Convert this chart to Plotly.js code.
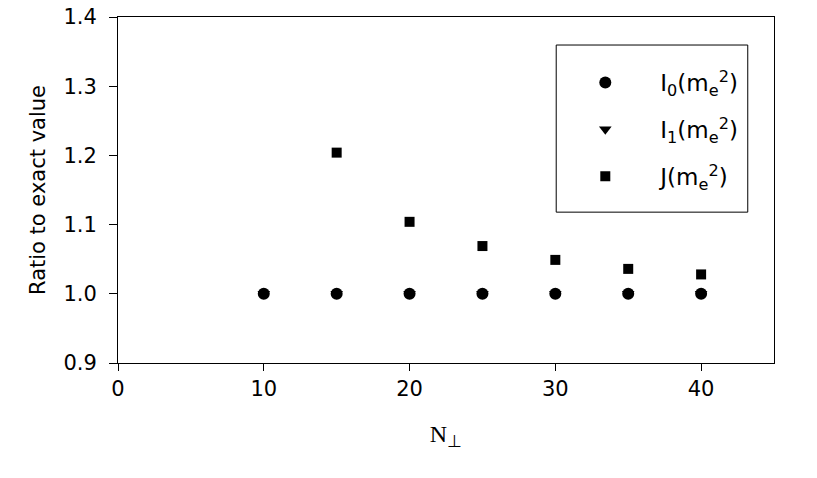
<!DOCTYPE html>
<html>
<head>
<meta charset="utf-8">
<script src="https://cdn.plot.ly/plotly-3.0.1.min.js"></script>
<style>
  body { margin: 0; background: #fff; }
  #plot { width: 817px; height: 478px; }
</style>
</head>
<body>
<div id="plot"></div>
<script>
const nPerp = [10, 15, 20, 25, 30, 35, 40];
const ratioI0 = [1.0, 1.0, 1.0, 1.0, 1.0, 1.0, 1.0];
const ratioI1 = [1.0, 1.0, 1.0, 1.0, 1.0, 1.0, 1.0];
const nPerpJ = [15, 20, 25, 30, 35, 40];
const ratioJ = [1.204, 1.104, 1.069, 1.049, 1.036, 1.028];

const yTicks = [0.9, 1.0, 1.1, 1.2, 1.3, 1.4];
const xTicks = [0, 10, 20, 30, 40];

const data = [
  {
    x: nPerp, y: ratioI0, type: "scatter", mode: "markers",
    name: "I<sub>0</sub>(m<sub>e</sub><sup>2</sup>)", legendgroup: "a",
    marker: { symbol: "circle", size: 12, color: "#000" },
  },
  {
    x: nPerp, y: ratioI1, type: "scatter", mode: "markers",
    name: "I<sub>1</sub>(m<sub>e</sub><sup>2</sup>)", legendgroup: "b",
    marker: { symbol: "triangle-down", size: 11, color: "#000" },
  },
  {
    x: nPerpJ, y: ratioJ, type: "scatter", mode: "markers",
    name: "J(m<sub>e</sub><sup>2</sup>)", legendgroup: "c",
    marker: { symbol: "square", size: 10, color: "#000" },
  },
];

const layout = {
  width: 817,
  height: 478,
  margin: { l: 118, r: 43, t: 17, b: 115 },
  paper_bgcolor: "#fff",
  plot_bgcolor: "#fff",
  font: { family: "DejaVu Sans, Liberation Sans, sans-serif", size: 21, color: "#000" },
  showlegend: true,
  legend: {
    x: 0.659, y: 0.873, xanchor: "left", yanchor: "top",
    bgcolor: "rgba(0,0,0,0)", borderwidth: 0,
    font: { size: 23 },
    traceorder: "grouped", tracegroupgap: 14,
    itemwidth: 100,
  },
  // legend frame
  shapes: [
    {
      type: "rect", xref: "paper", yref: "paper",
      x0: 0.668, x1: 0.960, y0: 0.436, y1: 0.919,
      line: { color: "#000", width: 1 },
    },
  ],
  xaxis: {
    range: [0, 45],
    tickvals: xTicks,
    ticks: "outside", ticklen: 7, tickcolor: "#000",
    showline: true, linecolor: "#000", linewidth: 1, mirror: true,
    showgrid: false, zeroline: false,
    title: {
      text: "N<sub>⊥</sub>",
      font: { family: "Liberation Serif, Times New Roman, serif", size: 24 },
      standoff: 24,
    },
  },
  yaxis: {
    range: [0.9, 1.4],
    tickvals: yTicks,
    tickformat: ".1f",
    ticks: "outside", ticklen: 8, tickcolor: "#000",
    ticklabelstandoff: 8,
    showline: true, linecolor: "#000", linewidth: 1, mirror: true,
    showgrid: false, zeroline: false,
    title: { text: "Ratio to exact value", font: { size: 21 }, standoff: 12 },
  },
};

Plotly.newPlot("plot", data, layout, { staticPlot: true });
</script>
</body>
</html>
